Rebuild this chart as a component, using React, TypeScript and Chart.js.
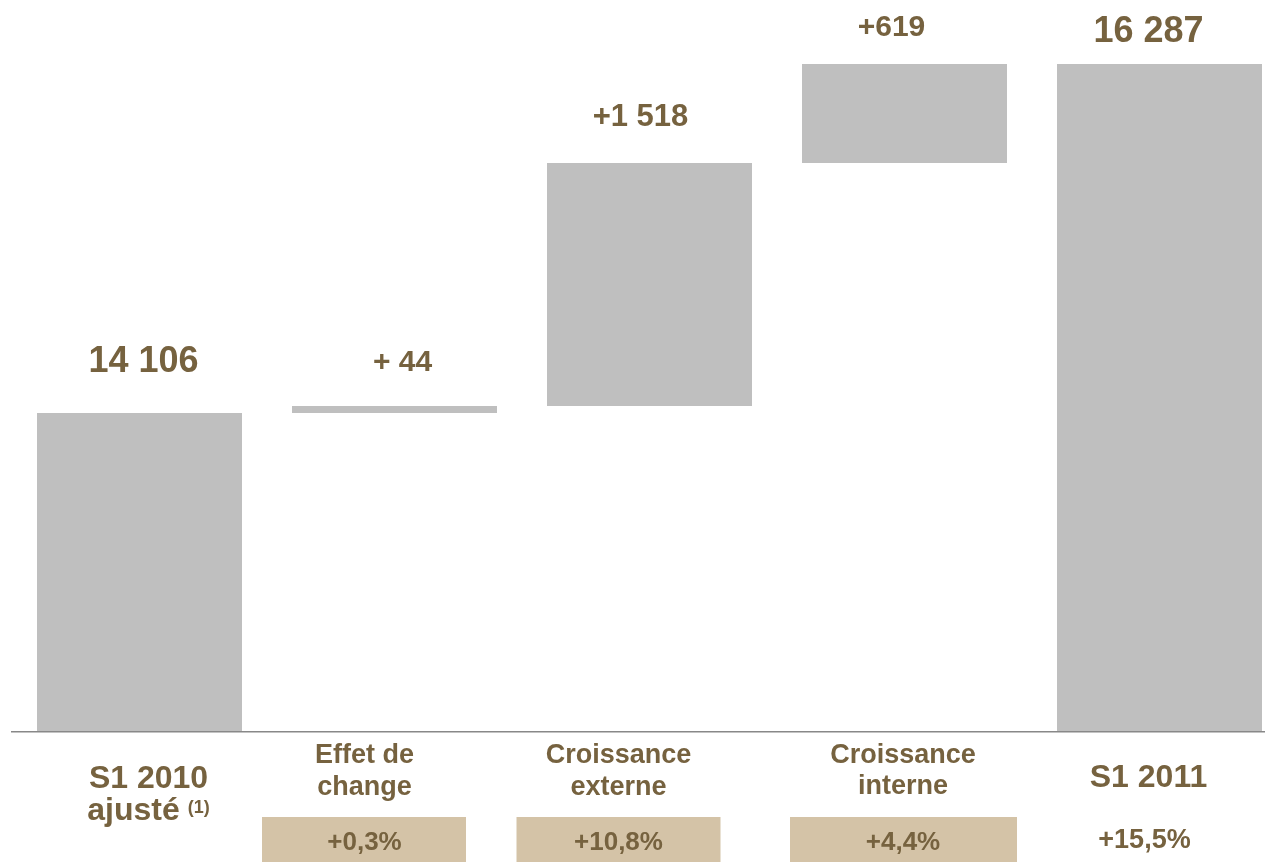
import React, { useEffect, useRef } from "react";
import { Chart, registerables } from "chart.js";

Chart.register(...registerables);

// ---- data ----
const categories = ["S1 2010 ajusté", "Effet de change", "Croissance externe", "Croissance interne", "S1 2011"];
const values = [14106, 44, 1518, 619, 16287];
const kinds = ["total", "delta", "delta", "delta", "total"];
const valueLabels = ["14 106", "+ 44", "+1 518", "+619", "16 287"];
const labelLines = [["S1 2010", "ajusté"], ["Effet de", "change"], ["Croissance", "externe"], ["Croissance", "interne"], ["S1 2011"]];
const percentLabels = ["", "+0,3%", "+10,8%", "+4,4%", "+15,5%"];
const percentBoxed = [false, true, true, true, false];
const axisMin = 12119;
const axisMax = 16624;

// ---- style ----
const TEXT = "#76623f";
const BAR = "#bfbfbf";
const BOX = "#d4c3a7";
const FONT = "'Liberation Sans', Arial, sans-serif";
const valueDx = [4, 8, -9, -13, -11];
const valueDy = [-41, -35, -37, -28, -22];
const valueFont = [36, 30, 31, 30, 36];
const catDx = [9, -30, -31, -1.5, -11];
const catFont = [32, 27, 27, 27, 32];
const catBase = [[57, 89], [32, 64], [32, 64], [32, 63], [56]];
const pctDx = [0, 0, 0, 0, -4];
const pctBase = [119, 119, 119, 119, 117];
const pctFont = [26, 26, 26, 26, 27];
const boxDx = [0, -30.5, -31, -1, 0];
const boxW = [0, 204, 204, 227, 0];
const boxTop = 86;

// build floating ranges
const ranges: [number, number][] = [];
{
  let running = 0;
  values.forEach((v, i) => {
    if (kinds[i] === "total") {
      ranges.push([axisMin, v]);
      running = v;
    } else {
      ranges.push([running, running + v]);
      running += v;
    }
  });
}

const annotPlugin = {
  id: "annot",
  afterDraw(chart: any) {
    const ctx = chart.ctx as CanvasRenderingContext2D;
    const area = chart.chartArea;
    const xs = chart.scales.x;
    const meta = chart.getDatasetMeta(0);
    ctx.save();
    // baseline
    ctx.strokeStyle = "#888888";
    ctx.lineWidth = 1.5;
    ctx.beginPath();
    ctx.moveTo(area.left - 1, area.bottom + 0.75);
    ctx.lineTo(chart.width, area.bottom + 0.75);
    ctx.stroke();

    ctx.textAlign = "center";
    ctx.textBaseline = "alphabetic";
    meta.data.forEach((bar: any, i: number) => {
      const top = Math.min(bar.y, bar.base);
      ctx.fillStyle = TEXT;
      ctx.font = `bold ${valueFont[i]}px ${FONT}`;
      ctx.fillText(valueLabels[i], bar.x + valueDx[i], top + valueDy[i]);
    });

    categories.forEach((_, i) => {
      const cx = xs.getPixelForValue(i);
      if (percentBoxed[i]) {
        ctx.fillStyle = BOX;
        const bx = cx + boxDx[i] - boxW[i] / 2;
        ctx.fillRect(bx, area.bottom + boxTop, boxW[i], chart.height - (area.bottom + boxTop));
      }
      ctx.fillStyle = TEXT;
      ctx.font = `bold ${catFont[i]}px ${FONT}`;
      const lx = cx + catDx[i];
      labelLines[i].forEach((line, j) => {
        const yb = area.bottom + catBase[i][j];
        if (i === 0 && j === 1) {
          ctx.font = `bold ${catFont[i]}px ${FONT}`;
          const w1 = ctx.measureText(line).width;
          ctx.font = `bold 18px ${FONT}`;
          const sup = "(1)";
          const w2 = ctx.measureText(sup).width;
          const gap = 8;
          const start = lx - (w1 + gap + w2) / 2;
          ctx.textAlign = "left";
          ctx.font = `bold ${catFont[i]}px ${FONT}`;
          ctx.fillText(line, start, yb);
          ctx.font = `bold 18px ${FONT}`;
          ctx.fillText(sup, start + w1 + gap, yb - 7);
          ctx.textAlign = "center";
          ctx.font = `bold ${catFont[i]}px ${FONT}`;
        } else {
          ctx.fillText(line, lx, yb);
        }
      });
      if (percentLabels[i]) {
        ctx.fillStyle = TEXT;
        ctx.font = `bold ${pctFont[i]}px ${FONT}`;
        ctx.fillText(percentLabels[i], lx + pctDx[i], area.bottom + pctBase[i]);
      }
    });
    ctx.restore();
  },
};

export default function App() {
  const ref = useRef<HTMLCanvasElement | null>(null);
  useEffect(() => {
    if (!ref.current) return;
    const chart = new Chart(ref.current, {
      type: "bar",
      data: {
        labels: categories,
        datasets: [
          {
            data: ranges as any,
            backgroundColor: BAR,
            borderWidth: 0,
            categoryPercentage: 1,
            barPercentage: 205 / 255,
          },
        ],
      },
      options: {
        animation: false,
        responsive: true,
        maintainAspectRatio: false,
        layout: { padding: { left: 12, right: 13, top: 10, bottom: 131 } },
        plugins: { legend: { display: false }, tooltip: { enabled: false } },
        scales: {
          x: { display: false },
          y: { display: false, min: axisMin, max: axisMax },
        },
      },
      plugins: [annotPlugin],
    });
    return () => chart.destroy();
  }, []);
  return (
    <div style={{ position: "fixed", left: 0, top: 0, width: 1265, height: 862, overflow: "hidden", background: "#fff" }}>
      <div style={{ position: "relative", width: 1300, height: 862 }}>
        <canvas ref={ref} />
      </div>
    </div>
  );
}
